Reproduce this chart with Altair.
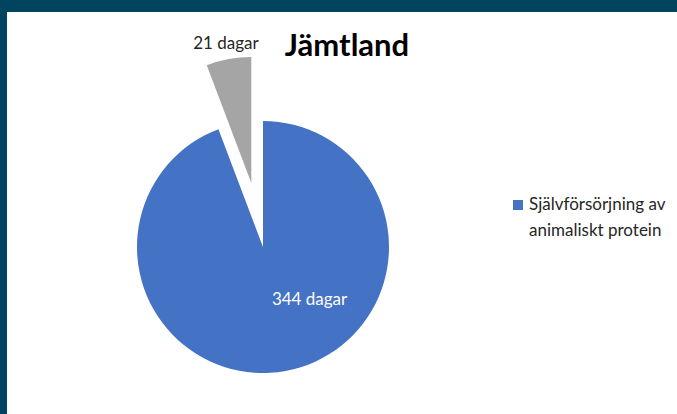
import math
import altair as alt
import pandas as pd

# ---- data ----
categories = ["Självförsörjning av animaliskt protein", "Övrigt"]
values = [344, 21]
labels = ["344 dagar", "21 dagar"]
colors = ["#4472C4", "#A5A5A5"]
title_text = "Jämtland"
legend_lines = ["Självförsörjning av", "animaliskt protein"]

total = sum(values)
ends = list(pd.Series(values).cumsum())
starts = [e - v for e, v in zip(ends, values)]
df = pd.DataFrame({
    "category": categories,
    "value": values,
    "label": labels,
    "start": starts,
    "end": ends,
    "idx": list(range(len(values))),
})

W, H = 677, 414
CX, CY, R = 263, 247, 126
EXPLODE = 65
TWO_PI = 2 * math.pi

theta_scale = alt.Scale(domain=[0, total], range=[0, TWO_PI])
color_scale = alt.Scale(domain=categories, range=colors)

base = alt.Chart(df).transform_calculate(
    mid=f"(datum.start + datum.end) / 2 / {total} * {TWO_PI}",
).transform_calculate(
    ex=f"datum.idx == 1 ? {EXPLODE} : 0",
).transform_calculate(
    cx=f"{CX} + datum.ex * sin(datum.mid)",
    cy=f"{CY} - datum.ex * cos(datum.mid)",
    lr=f"datum.idx == 1 ? {R + 15} : {R * 0.56}",
    la="datum.idx == 1 ? datum.mid : datum.mid - 0.54",
).transform_calculate(
    lx="datum.cx + datum.lr * sin(datum.la)",
    ly="datum.cy - datum.lr * cos(datum.la)",
)

bg = alt.Chart(pd.DataFrame({"a": [0]})).mark_rect(color="white").encode(
    x=alt.value(7), x2=alt.value(W), y=alt.value(12), y2=alt.value(H)
)

arcs = base.mark_arc(radius=R, stroke=None).encode(
    theta=alt.Theta("start:Q", scale=theta_scale),
    theta2="end:Q",
    color=alt.Color("category:N", scale=color_scale, legend=None),
    x=alt.X("cx:Q", scale=None),
    y=alt.Y("cy:Q", scale=None),
)

slice_labels = base.mark_text(font="Lato", fontSize=17, align="center", baseline="middle").encode(
    x=alt.X("lx:Q", scale=None),
    y=alt.Y("ly:Q", scale=None),
    text="label:N",
    color=alt.condition("datum.idx == 0", alt.value("white"), alt.value("#262626")),
)

title = alt.Chart(pd.DataFrame({"t": [title_text]})).mark_text(
    font="Lato", fontSize=31, fontWeight="bold", color="black", align="center", baseline="middle"
).encode(x=alt.value(347), y=alt.value(47), text="t:N")

legend_sym = alt.Chart(df[df.idx == 0]).mark_square(size=100, opacity=1).encode(
    x=alt.value(518), y=alt.value(205),
    color=alt.Color("category:N", scale=color_scale, legend=None),
)

leg_df = pd.DataFrame({"line": legend_lines, "i": list(range(len(legend_lines)))})
legend_text = alt.Chart(leg_df).mark_text(
    font="Lato", fontSize=17, color="#262626", align="left", baseline="middle"
).encode(
    x=alt.value(529),
    y=alt.Y("i:Q", scale=alt.Scale(domain=[0, 1], range=[205, 231]), axis=None),
    text="line:N",
)

chart = alt.layer(bg, arcs, slice_labels, title, legend_sym, legend_text).resolve_scale(
    y="independent", x="independent", color="independent"
).properties(
    width=W, height=H, background="#00445F", padding=0, autosize="none"
).configure_view(stroke=None)

chart.save("out.html", embed_options={"renderer": "svg", "actions": False})
